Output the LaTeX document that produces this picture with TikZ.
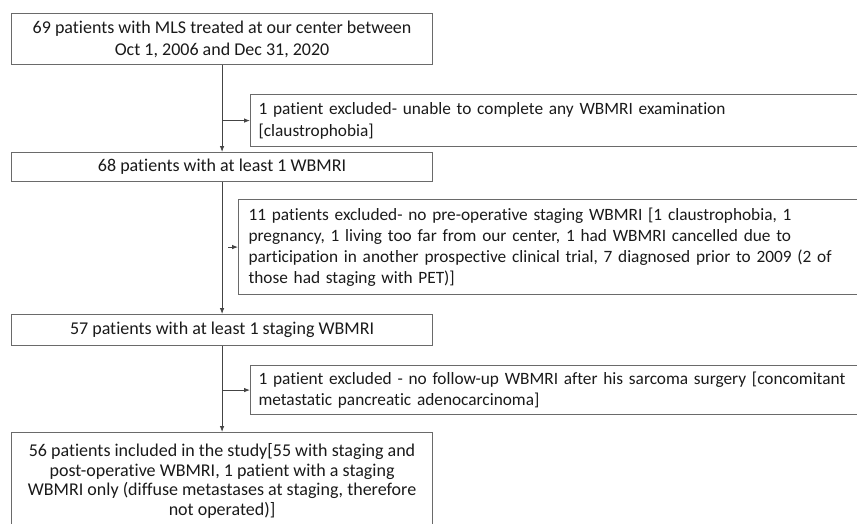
\documentclass[tikz,border=0pt]{standalone}
\usepackage{fontspec}
\setmainfont{Carlito}[Ligatures=NoCommon]
\usetikzlibrary{arrows.meta}
\definecolor{boxline}{HTML}{6A6A6A}
\definecolor{arrline}{HTML}{444444}
\definecolor{txt}{HTML}{1A1A1A}
\begin{document}
\begin{tikzpicture}[x=1pt,y=-1pt,
  every node/.style={font=\fontsize{18}{20.5}\selectfont, text=txt},
  mainbox/.style={draw=boxline, line width=1.1pt, anchor=north west, minimum width=421pt, align=center, inner sep=0pt},
  exbox/.style={draw=boxline, line width=1.1pt, anchor=north west, inner xsep=8pt, inner ysep=0pt, align=left, text width=700pt},
  arr/.style={draw=arrline, line width=0.8pt, -{Latex[length=6pt,width=4.5pt]}}]
\useasboundingbox[fill=white] (0,0) rectangle (857,523);
\node[mainbox, minimum height=51pt, font=\fontsize{18}{22}\selectfont] (b1) at (11,13) {69 patients with MLS treated at our center between\\Oct 1, 2006 and Dec 31, 2020};
\node[exbox, minimum height=52pt, font=\fontsize{17.3}{22}\selectfont] (b2) at (250,94) {1 patient excluded- unable to complete any WBMRI examination\\{[}claustrophobia{]}};
\node[mainbox, minimum height=29pt] (b3) at (11,152) {68 patients with at least 1 WBMRI};
\node[exbox, inner xsep=10pt, minimum height=95pt, font=\fontsize{17.3}{21}\selectfont] (b4) at (238,199) {11 patients excluded- no pre-operative staging WBMRI {[}1 claustrophobia, 1\\pregnancy, 1 living too far from our center, 1 had WBMRI cancelled due to\\participation in another prospective clinical trial, 7 diagnosed prior to 2009 (2 of\\those had staging with PET){]}};
\node[mainbox, minimum height=31pt] (b5) at (11,314) {57 patients with at least 1 staging WBMRI};
\node[exbox, minimum height=49pt, font=\fontsize{17.3}{21}\selectfont] (b6) at (250,365) {1 patient excluded - no follow-up WBMRI after his sarcoma surgery {[}concomitant\\metastatic pancreatic adenocarcinoma{]}};
\node[mainbox, minimum height=97pt, font=\fontsize{18}{19.7}\selectfont] (b7) at (11,432) {56 patients included in the study{[}55 with staging and\\post-operative WBMRI, 1 patient with a staging\\WBMRI only (diffuse metastases at staging, therefore\\not operated){]}};
\draw[arr] (b1.south) -- (b3.north);
\draw[arr] (b3.south) -- (b5.north);
\draw[arr] (b5.south) -- (b7.north);
\draw[arr] (b2.west -| b1.south) -- (b2.west);
\coordinate (c4) at ([xshift=-10pt]b4.west);
\draw[arr] (c4) -- (b4.west);
\draw[arr] (b6.west -| b5.south) -- (b6.west);
\end{tikzpicture}
\end{document}
